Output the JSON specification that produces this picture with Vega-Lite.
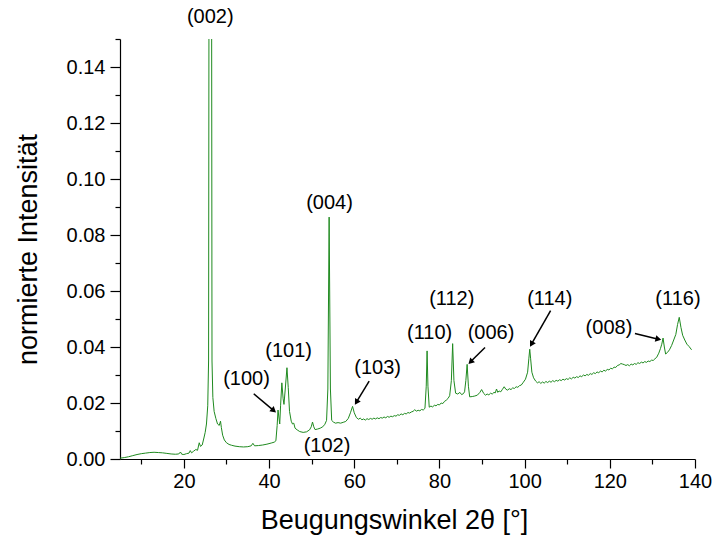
{
  "$schema": "https://vega.github.io/schema/vega-lite/v6.json",
  "autosize": {"type": "none"},
  "padding": {"left": 120, "top": 39, "right": 17, "bottom": 81},
  "width": 575,
  "height": 420,
  "background": "white",
  "config": {
    "view": {"stroke": null},
    "font": "Liberation Sans",
    "axis": {
      "grid": false,
      "domainColor": "black",
      "domainWidth": 1.2,
      "tickColor": "black",
      "tickWidth": 1.2,
      "labelColor": "black",
      "labelFont": "Liberation Sans",
      "labelFontSize": 20,
      "titleColor": "black",
      "titleFont": "Liberation Sans",
      "titleFontSize": 27,
      "titleFontWeight": "normal"
    }
  },
  "resolve": {"axis": {"x": "independent", "y": "independent"}},
  "datasets": {
    "spectrum": [
      {"angle": 5.0, "intensity": 0.0003}, {"angle": 6.0, "intensity": 0.0005}, {"angle": 7.0, "intensity": 0.0008},
      {"angle": 8.0, "intensity": 0.0012}, {"angle": 9.0, "intensity": 0.0016}, {"angle": 10.0, "intensity": 0.0019},
      {"angle": 11.0, "intensity": 0.0021}, {"angle": 12.0, "intensity": 0.0023}, {"angle": 13.0, "intensity": 0.0024},
      {"angle": 14.0, "intensity": 0.0023}, {"angle": 15.0, "intensity": 0.0022}, {"angle": 16.0, "intensity": 0.002},
      {"angle": 17.0, "intensity": 0.0018}, {"angle": 18.0, "intensity": 0.0017}, {"angle": 18.8, "intensity": 0.0018},
      {"angle": 19.2, "intensity": 0.0025}, {"angle": 19.5, "intensity": 0.0017}, {"angle": 20.0, "intensity": 0.0016},
      {"angle": 20.6, "intensity": 0.0019}, {"angle": 21.2, "intensity": 0.0021}, {"angle": 21.5, "intensity": 0.003},
      {"angle": 21.8, "intensity": 0.0022}, {"angle": 22.3, "intensity": 0.0028}, {"angle": 22.8, "intensity": 0.0034},
      {"angle": 23.2, "intensity": 0.0031}, {"angle": 23.6, "intensity": 0.0058}, {"angle": 23.9, "intensity": 0.0045},
      {"angle": 24.3, "intensity": 0.005}, {"angle": 24.7, "intensity": 0.0075}, {"angle": 25.0, "intensity": 0.0095},
      {"angle": 25.3, "intensity": 0.0125}, {"angle": 25.6, "intensity": 0.019}, {"angle": 25.8, "intensity": 0.035},
      {"angle": 26.2, "intensity": 0.62}, {"angle": 26.6, "intensity": 0.035}, {"angle": 26.8, "intensity": 0.022},
      {"angle": 27.1, "intensity": 0.017}, {"angle": 27.5, "intensity": 0.0145}, {"angle": 27.9, "intensity": 0.0125},
      {"angle": 28.3, "intensity": 0.012}, {"angle": 28.6, "intensity": 0.0135}, {"angle": 28.8, "intensity": 0.0112},
      {"angle": 29.1, "intensity": 0.0085}, {"angle": 29.5, "intensity": 0.0068}, {"angle": 30.0, "intensity": 0.0058},
      {"angle": 30.6, "intensity": 0.0052}, {"angle": 31.2, "intensity": 0.0049}, {"angle": 32.0, "intensity": 0.0046},
      {"angle": 33.0, "intensity": 0.0044}, {"angle": 34.0, "intensity": 0.0043}, {"angle": 35.0, "intensity": 0.0044},
      {"angle": 35.8, "intensity": 0.0047}, {"angle": 36.2, "intensity": 0.0056}, {"angle": 36.6, "intensity": 0.0047},
      {"angle": 37.5, "intensity": 0.0048}, {"angle": 38.5, "intensity": 0.005}, {"angle": 39.5, "intensity": 0.0053},
      {"angle": 40.5, "intensity": 0.0057}, {"angle": 41.2, "intensity": 0.006}, {"angle": 41.6, "intensity": 0.0065},
      {"angle": 41.9, "intensity": 0.012}, {"angle": 42.1, "intensity": 0.0175}, {"angle": 42.3, "intensity": 0.015},
      {"angle": 42.5, "intensity": 0.0125}, {"angle": 42.7, "intensity": 0.019}, {"angle": 43.0, "intensity": 0.0272},
      {"angle": 43.3, "intensity": 0.0215}, {"angle": 43.5, "intensity": 0.0195}, {"angle": 43.8, "intensity": 0.025},
      {"angle": 44.2, "intensity": 0.0326}, {"angle": 44.5, "intensity": 0.0255}, {"angle": 44.8, "intensity": 0.017},
      {"angle": 45.2, "intensity": 0.0135}, {"angle": 45.5, "intensity": 0.0125}, {"angle": 45.8, "intensity": 0.0128},
      {"angle": 46.1, "intensity": 0.011}, {"angle": 46.6, "intensity": 0.0104}, {"angle": 47.2, "intensity": 0.0098},
      {"angle": 48.0, "intensity": 0.0095}, {"angle": 48.8, "intensity": 0.0097}, {"angle": 49.5, "intensity": 0.0104},
      {"angle": 49.9, "intensity": 0.0115}, {"angle": 50.2, "intensity": 0.0132}, {"angle": 50.5, "intensity": 0.0115},
      {"angle": 50.8, "intensity": 0.0105}, {"angle": 51.4, "intensity": 0.0107}, {"angle": 52.0, "intensity": 0.011},
      {"angle": 52.6, "intensity": 0.0115}, {"angle": 53.1, "intensity": 0.0124}, {"angle": 53.5, "intensity": 0.0138},
      {"angle": 53.8, "intensity": 0.025}, {"angle": 54.1, "intensity": 0.0864}, {"angle": 54.4, "intensity": 0.025},
      {"angle": 54.7, "intensity": 0.0138}, {"angle": 55.1, "intensity": 0.0132}, {"angle": 55.6, "intensity": 0.0128},
      {"angle": 56.2, "intensity": 0.013}, {"angle": 56.8, "intensity": 0.0128}, {"angle": 57.4, "intensity": 0.0131},
      {"angle": 58.0, "intensity": 0.0134}, {"angle": 58.6, "intensity": 0.0145}, {"angle": 59.1, "intensity": 0.0165},
      {"angle": 59.6, "intensity": 0.0188}, {"angle": 60.0, "intensity": 0.0165}, {"angle": 60.5, "intensity": 0.0148},
      {"angle": 61.0, "intensity": 0.0142}, {"angle": 61.4, "intensity": 0.0146}, {"angle": 61.8, "intensity": 0.014},
      {"angle": 62.2, "intensity": 0.0143}, {"angle": 62.6, "intensity": 0.0139}, {"angle": 63.0, "intensity": 0.0144},
      {"angle": 63.4, "intensity": 0.0141}, {"angle": 63.8, "intensity": 0.0145}, {"angle": 64.2, "intensity": 0.0142},
      {"angle": 64.6, "intensity": 0.0146}, {"angle": 65.0, "intensity": 0.0143}, {"angle": 65.4, "intensity": 0.0147},
      {"angle": 65.8, "intensity": 0.0144}, {"angle": 66.2, "intensity": 0.0148}, {"angle": 66.6, "intensity": 0.0146},
      {"angle": 67.0, "intensity": 0.015}, {"angle": 67.4, "intensity": 0.0147}, {"angle": 67.8, "intensity": 0.0152},
      {"angle": 68.2, "intensity": 0.0149}, {"angle": 68.6, "intensity": 0.0153}, {"angle": 69.0, "intensity": 0.0151},
      {"angle": 69.4, "intensity": 0.0155}, {"angle": 69.8, "intensity": 0.0153}, {"angle": 70.2, "intensity": 0.0158},
      {"angle": 70.6, "intensity": 0.0156}, {"angle": 71.0, "intensity": 0.0161}, {"angle": 71.4, "intensity": 0.0158},
      {"angle": 71.8, "intensity": 0.0163}, {"angle": 72.2, "intensity": 0.0161}, {"angle": 72.6, "intensity": 0.0166},
      {"angle": 73.0, "intensity": 0.0164}, {"angle": 73.4, "intensity": 0.0168}, {"angle": 73.8, "intensity": 0.017},
      {"angle": 74.2, "intensity": 0.0176}, {"angle": 74.6, "intensity": 0.0171}, {"angle": 75.0, "intensity": 0.0174},
      {"angle": 75.4, "intensity": 0.0172}, {"angle": 75.8, "intensity": 0.0177}, {"angle": 76.2, "intensity": 0.0175},
      {"angle": 76.6, "intensity": 0.0181}, {"angle": 76.9, "intensity": 0.026}, {"angle": 77.1, "intensity": 0.0386},
      {"angle": 77.3, "intensity": 0.026}, {"angle": 77.6, "intensity": 0.0185}, {"angle": 78.0, "intensity": 0.0189},
      {"angle": 78.4, "intensity": 0.0186}, {"angle": 78.8, "intensity": 0.0192}, {"angle": 79.2, "intensity": 0.019},
      {"angle": 79.6, "intensity": 0.0195}, {"angle": 80.0, "intensity": 0.0193}, {"angle": 80.4, "intensity": 0.02},
      {"angle": 80.8, "intensity": 0.0198}, {"angle": 81.2, "intensity": 0.0206}, {"angle": 81.6, "intensity": 0.021},
      {"angle": 82.0, "intensity": 0.0216}, {"angle": 82.4, "intensity": 0.0226}, {"angle": 82.8, "intensity": 0.028},
      {"angle": 83.1, "intensity": 0.0412}, {"angle": 83.4, "intensity": 0.028}, {"angle": 83.8, "intensity": 0.0235},
      {"angle": 84.3, "intensity": 0.0232}, {"angle": 84.8, "intensity": 0.0238}, {"angle": 85.2, "intensity": 0.023},
      {"angle": 85.6, "intensity": 0.0233}, {"angle": 85.9, "intensity": 0.024}, {"angle": 86.2, "intensity": 0.028},
      {"angle": 86.5, "intensity": 0.0338}, {"angle": 86.8, "intensity": 0.026}, {"angle": 87.1, "intensity": 0.0222},
      {"angle": 87.7, "intensity": 0.0223}, {"angle": 88.3, "intensity": 0.0225}, {"angle": 88.9, "intensity": 0.0228},
      {"angle": 89.5, "intensity": 0.0238}, {"angle": 89.9, "intensity": 0.0248}, {"angle": 90.4, "intensity": 0.0234},
      {"angle": 90.8, "intensity": 0.0228}, {"angle": 91.2, "intensity": 0.0232}, {"angle": 91.6, "intensity": 0.0229},
      {"angle": 92.0, "intensity": 0.0235}, {"angle": 92.4, "intensity": 0.0232}, {"angle": 92.8, "intensity": 0.0238},
      {"angle": 93.1, "intensity": 0.0236}, {"angle": 93.4, "intensity": 0.025}, {"angle": 93.7, "intensity": 0.0238},
      {"angle": 94.0, "intensity": 0.0243}, {"angle": 94.4, "intensity": 0.024}, {"angle": 94.8, "intensity": 0.0249},
      {"angle": 95.2, "intensity": 0.0258}, {"angle": 95.6, "intensity": 0.0249}, {"angle": 96.0, "intensity": 0.0246},
      {"angle": 96.4, "intensity": 0.0251}, {"angle": 96.8, "intensity": 0.0248}, {"angle": 97.2, "intensity": 0.0254},
      {"angle": 97.6, "intensity": 0.0252}, {"angle": 98.0, "intensity": 0.0258}, {"angle": 98.4, "intensity": 0.0256},
      {"angle": 98.8, "intensity": 0.0262}, {"angle": 99.2, "intensity": 0.0264}, {"angle": 99.6, "intensity": 0.0272},
      {"angle": 100.2, "intensity": 0.0285}, {"angle": 100.7, "intensity": 0.031}, {"angle": 101.0, "intensity": 0.036},
      {"angle": 101.2, "intensity": 0.0392}, {"angle": 101.4, "intensity": 0.036}, {"angle": 101.7, "intensity": 0.031},
      {"angle": 102.1, "intensity": 0.029}, {"angle": 102.6, "intensity": 0.0278}, {"angle": 103.0, "intensity": 0.0272},
      {"angle": 103.4, "intensity": 0.0276}, {"angle": 103.8, "intensity": 0.027}, {"angle": 104.2, "intensity": 0.0275},
      {"angle": 104.6, "intensity": 0.0271}, {"angle": 105.0, "intensity": 0.0277}, {"angle": 105.4, "intensity": 0.0273},
      {"angle": 105.8, "intensity": 0.0278}, {"angle": 106.2, "intensity": 0.0274}, {"angle": 106.6, "intensity": 0.028},
      {"angle": 107.0, "intensity": 0.0276}, {"angle": 107.4, "intensity": 0.0281}, {"angle": 107.8, "intensity": 0.0278},
      {"angle": 108.2, "intensity": 0.0283}, {"angle": 108.6, "intensity": 0.028}, {"angle": 109.0, "intensity": 0.0285},
      {"angle": 109.4, "intensity": 0.0282}, {"angle": 109.8, "intensity": 0.0287}, {"angle": 110.2, "intensity": 0.0284},
      {"angle": 110.6, "intensity": 0.029}, {"angle": 111.0, "intensity": 0.0286}, {"angle": 111.4, "intensity": 0.0292},
      {"angle": 111.8, "intensity": 0.0289}, {"angle": 112.2, "intensity": 0.0294}, {"angle": 112.6, "intensity": 0.0291},
      {"angle": 113.0, "intensity": 0.0297}, {"angle": 113.4, "intensity": 0.0294}, {"angle": 113.8, "intensity": 0.03},
      {"angle": 114.2, "intensity": 0.0297}, {"angle": 114.6, "intensity": 0.0302}, {"angle": 115.0, "intensity": 0.0299},
      {"angle": 115.4, "intensity": 0.0305}, {"angle": 115.8, "intensity": 0.0302}, {"angle": 116.2, "intensity": 0.0308},
      {"angle": 116.6, "intensity": 0.0305}, {"angle": 117.0, "intensity": 0.0311}, {"angle": 117.4, "intensity": 0.0308},
      {"angle": 117.8, "intensity": 0.0314}, {"angle": 118.2, "intensity": 0.0311}, {"angle": 118.6, "intensity": 0.0317},
      {"angle": 119.0, "intensity": 0.0314}, {"angle": 119.4, "intensity": 0.032}, {"angle": 119.8, "intensity": 0.0318},
      {"angle": 120.2, "intensity": 0.0324}, {"angle": 120.6, "intensity": 0.0322}, {"angle": 121.0, "intensity": 0.0328},
      {"angle": 121.4, "intensity": 0.0327}, {"angle": 121.8, "intensity": 0.0334}, {"angle": 122.2, "intensity": 0.0336},
      {"angle": 122.6, "intensity": 0.0341}, {"angle": 123.0, "intensity": 0.0339}, {"angle": 123.4, "intensity": 0.0337},
      {"angle": 123.8, "intensity": 0.0334}, {"angle": 124.2, "intensity": 0.0337}, {"angle": 124.6, "intensity": 0.0333},
      {"angle": 125.0, "intensity": 0.0339}, {"angle": 125.4, "intensity": 0.0336}, {"angle": 125.8, "intensity": 0.0341},
      {"angle": 126.2, "intensity": 0.0338}, {"angle": 126.6, "intensity": 0.0344}, {"angle": 127.0, "intensity": 0.0341},
      {"angle": 127.4, "intensity": 0.0346}, {"angle": 127.8, "intensity": 0.0343}, {"angle": 128.2, "intensity": 0.0348},
      {"angle": 128.6, "intensity": 0.0345}, {"angle": 129.0, "intensity": 0.035}, {"angle": 129.4, "intensity": 0.0348},
      {"angle": 129.8, "intensity": 0.0353}, {"angle": 130.2, "intensity": 0.0352}, {"angle": 130.6, "intensity": 0.0358},
      {"angle": 131.0, "intensity": 0.0363}, {"angle": 131.5, "intensity": 0.0378}, {"angle": 131.9, "intensity": 0.0395},
      {"angle": 132.2, "intensity": 0.041}, {"angle": 132.5, "intensity": 0.0432}, {"angle": 132.8, "intensity": 0.04},
      {"angle": 133.1, "intensity": 0.0375}, {"angle": 133.5, "intensity": 0.038}, {"angle": 134.0, "intensity": 0.039},
      {"angle": 134.5, "intensity": 0.0405}, {"angle": 135.0, "intensity": 0.0425}, {"angle": 135.5, "intensity": 0.0445},
      {"angle": 135.9, "intensity": 0.048}, {"angle": 136.3, "intensity": 0.0506}, {"angle": 136.7, "intensity": 0.047},
      {"angle": 137.1, "intensity": 0.0442}, {"angle": 137.6, "intensity": 0.0425}, {"angle": 138.1, "intensity": 0.041},
      {"angle": 138.6, "intensity": 0.0402}, {"angle": 139.2, "intensity": 0.039}
    ],
    "reflexes": [
      {"hkl": "(002)", "angle": 26.2, "intensity": 0.1578},
      {"hkl": "(004)", "angle": 54.2, "intensity": 0.0913},
      {"hkl": "(101)", "angle": 44.6, "intensity": 0.0386},
      {"hkl": "(100)", "angle": 34.7, "intensity": 0.0285},
      {"hkl": "(102)", "angle": 53.6, "intensity": 0.0045},
      {"hkl": "(103)", "angle": 65.5, "intensity": 0.0325},
      {"hkl": "(110)", "angle": 77.7, "intensity": 0.045},
      {"hkl": "(112)", "angle": 82.9, "intensity": 0.0573},
      {"hkl": "(006)", "angle": 92.1, "intensity": 0.045},
      {"hkl": "(114)", "angle": 105.9, "intensity": 0.0573},
      {"hkl": "(008)", "angle": 119.8, "intensity": 0.0469},
      {"hkl": "(116)", "angle": 136.0, "intensity": 0.0573}
    ],
    "pointers": [
      {"hkl": "(100)", "angle": 36.4, "intensity": 0.0233, "tipAngle": 41.1, "tipIntensity": 0.0173, "heading": 130},
      {"hkl": "(103)", "angle": 63.5, "intensity": 0.0278, "tipAngle": 60.5, "tipIntensity": 0.0203, "heading": 211},
      {"hkl": "(006)", "angle": 90.7, "intensity": 0.0398, "tipAngle": 87.3, "tipIntensity": 0.0347, "heading": 225},
      {"hkl": "(114)", "angle": 106.1, "intensity": 0.053, "tipAngle": 101.6, "tipIntensity": 0.041, "heading": 210},
      {"hkl": "(008)", "angle": 125.9, "intensity": 0.0448, "tipAngle": 131.4, "tipIntensity": 0.0428, "heading": 103}
    ]
  },
  "layer": [
    {
      "data": {"name": "spectrum"},
      "mark": {"type": "line", "color": "#1f8a1f", "strokeWidth": 1, "clip": true, "interpolate": "linear"},
      "encoding": {
        "x": {
          "field": "angle", "type": "quantitative",
          "scale": {"domain": [5, 140], "nice": false, "zero": false},
          "axis": {
            "orient": "bottom",
            "title": "Beugungswinkel 2θ [°]",
            "titleX": 274,
            "values": [20, 40, 60, 80, 100, 120, 140],
            "format": "d",
            "tickSize": 9,
            "labelPadding": 3,
            "labelFlush": false,
            "labelOverlap": false,
            "titlePadding": 16
          }
        },
        "y": {
          "field": "intensity", "type": "quantitative",
          "scale": {"domain": [0, 0.15], "nice": false, "zero": true},
          "axis": {
            "orient": "left",
            "title": "normierte Intensität",
            "values": [0, 0.02, 0.04, 0.06, 0.08, 0.1, 0.12, 0.14],
            "format": ".2f",
            "tickSize": 10,
            "labelPadding": 5,
            "labelFlush": false,
            "labelOverlap": false,
            "titlePadding": 24
          }
        }
      }
    },
    {
      "data": {"name": "pointers"},
      "mark": {"type": "rule", "color": "black", "strokeWidth": 1.5},
      "encoding": {
        "x": {
          "field": "angle", "type": "quantitative",
          "axis": {
            "orient": "bottom", "title": null, "labels": false, "domain": false,
            "values": [10, 30, 50, 70, 90, 110, 130], "tickSize": 5
          }
        },
        "y": {
          "field": "intensity", "type": "quantitative",
          "axis": {
            "orient": "left", "title": null, "labels": false, "domain": false,
            "values": [0.01, 0.03, 0.05, 0.07, 0.09, 0.11, 0.13, 0.15], "tickSize": 5
          }
        },
        "x2": {"field": "tipAngle"},
        "y2": {"field": "tipIntensity"}
      }
    },
    {
      "data": {"name": "pointers"},
      "mark": {"type": "point", "shape": "triangle-up", "filled": true, "color": "black", "opacity": 1, "size": 45},
      "encoding": {
        "x": {"field": "tipAngle", "type": "quantitative", "axis": null},
        "y": {"field": "tipIntensity", "type": "quantitative", "axis": null},
        "angle": {"field": "heading", "type": "quantitative", "scale": null}
      }
    },
    {
      "data": {"name": "reflexes"},
      "mark": {"type": "text", "font": "Liberation Sans", "fontSize": 20, "color": "black", "align": "center", "baseline": "middle"},
      "encoding": {
        "x": {"field": "angle", "type": "quantitative", "axis": null},
        "y": {"field": "intensity", "type": "quantitative", "axis": null},
        "text": {"field": "hkl"}
      }
    }
  ]
}
